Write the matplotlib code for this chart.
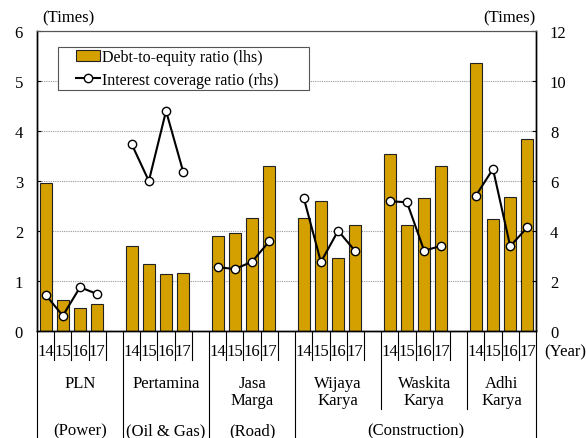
import numpy as np
import matplotlib.pyplot as plt
from matplotlib.patches import Rectangle
from matplotlib.transforms import blended_transform_factory

plt.rcParams['font.family'] = ['Liberation Serif', 'DejaVu Serif']
plt.rcParams['font.size'] = 11.5

# data: fiscal years 2014-2017 per SOE
years = ['14', '15', '16', '17']
companies = ['PLN', 'Pertamina', 'Jasa\nMarga', 'Wijaya\nKarya', 'Waskita\nKarya', 'Adhi\nKarya']
sectors = ['(Power)', '(Oil & Gas)', '(Road)', '(Construction)']
sector_span = [(0, 0), (1, 1), (2, 2), (3, 5)]  # company index range per sector

der = [
    [2.96, 0.63, 0.46, 0.55],   # PLN
    [1.70, 1.35, 1.15, 1.16],   # Pertamina
    [1.90, 1.97, 2.27, 3.31],   # Jasa Marga
    [2.27, 2.61, 1.47, 2.13],   # Wijaya Karya
    [3.55, 2.13, 2.67, 3.31],   # Waskita Karya
    [5.37, 2.25, 2.69, 3.84],   # Adhi Karya
]
icr = [
    [1.45, 0.61, 1.75, 1.48],
    [7.48, 6.00, 8.80, 6.36],
    [2.55, 2.48, 2.77, 3.59],
    [5.33, 2.76, 4.01, 3.19],
    [5.19, 5.15, 3.21, 3.41],
    [5.41, 6.48, 3.39, 4.15],
]

bar_color = '#D4A000'
slot = 5  # 4 years + 1 blank slot between companies
n_slots = slot * len(companies) - 1

fig = plt.figure(figsize=(5.86, 4.39), dpi=100)
ax = fig.add_axes([37 / 586, 1 - 332 / 439, 499 / 586, 300 / 439])
ax2 = ax.twinx()

for i in range(len(companies)):
    x = i * slot + np.arange(4) + 0.5
    ax.bar(x, der[i], width=0.7, color=bar_color, edgecolor='#222222', linewidth=0.8,
           label='Debt-to-equity ratio (lhs)' if i == 0 else None, zorder=2)
    ax2.plot(x, icr[i], color='black', lw=1.5, marker='o', ms=6, mfc='white', mec='black',
             mew=1.0, label='Interest coverage ratio (rhs)' if i == 0 else None, zorder=3)

ax.set_xlim(0, n_slots)
ax.set_ylim(0, 6)
ax2.set_ylim(0, 12)
ax.set_yticks(range(0, 7))
ax2.set_yticks(range(0, 13, 2))
ax.grid(axis='y', color='#999999', ls=(0, (1, 1)), lw=0.8, zorder=0)
ax.set_axisbelow(True)

ax.tick_params(axis='y', direction='in', length=3, pad=10, labelsize=12)
ax2.tick_params(axis='y', direction='in', length=3, pad=10, labelsize=12)
ax.set_xticks([])
for a in (ax, ax2):
    a.spines['top'].set_color('#555555')
    for side in ('left', 'right', 'bottom'):
        a.spines[side].set_linewidth(1.0)

ax.text(0.01, 1.02, '(Times)', transform=ax.transAxes, ha='left', va='bottom', fontsize=12)
ax2.text(1.0, 1.02, '(Times)', transform=ax.transAxes, ha='right', va='bottom', fontsize=12)

# category axis drawn below the plot
tr = blended_transform_factory(ax.transData, ax.transAxes)
short, mid, full = -0.097, -0.26, -0.36
for b in range(n_slots + 1):
    if b in (0, 5, 10, 15, n_slots):
        y0 = full
    elif b in (20, 25):
        y0 = mid
    else:
        y0 = short
    ax.plot([b, b], [0, y0], transform=tr, color='black', lw=0.8, clip_on=False)

for i, name in enumerate(companies):
    for j, yr in enumerate(years):
        ax.text(i * slot + j + 0.5, -0.068, yr, transform=tr, ha='center', va='center', fontsize=12)
    width = 4 if i == len(companies) - 1 else slot
    ax.text(i * slot + width / 2, -0.145, name, transform=tr, ha='center', va='top',
            fontsize=12, linespacing=1.1)

for s, (a, b) in zip(sectors, sector_span):
    x0 = a * slot
    x1 = min(b * slot + slot, n_slots)
    ax.text((x0 + x1) / 2, -0.33, s, transform=tr, ha='center', va='center', fontsize=12)

ax.text(1.017, -0.068, '(Year)', transform=ax.transAxes, ha='left', va='center', fontsize=12)

# legend with a separately drawn frame
ax.add_patch(Rectangle((0.042, 0.803), 0.503, 0.144, transform=ax.transAxes, fill=True,
                       facecolor='white', edgecolor='#555555', lw=0.8, zorder=4))
h1, l1 = ax.get_legend_handles_labels()
h2, l2 = ax2.get_legend_handles_labels()
leg = ax.legend(h1 + h2, l1 + l2, loc='center left', bbox_to_anchor=(0.078, 0.875),
                frameon=False, fontsize=11.5, handlelength=1.5, handletextpad=0.15,
                borderpad=0, labelspacing=0.4, borderaxespad=0)
leg.set_zorder(5)

fig.savefig('out.png', dpi=100)
